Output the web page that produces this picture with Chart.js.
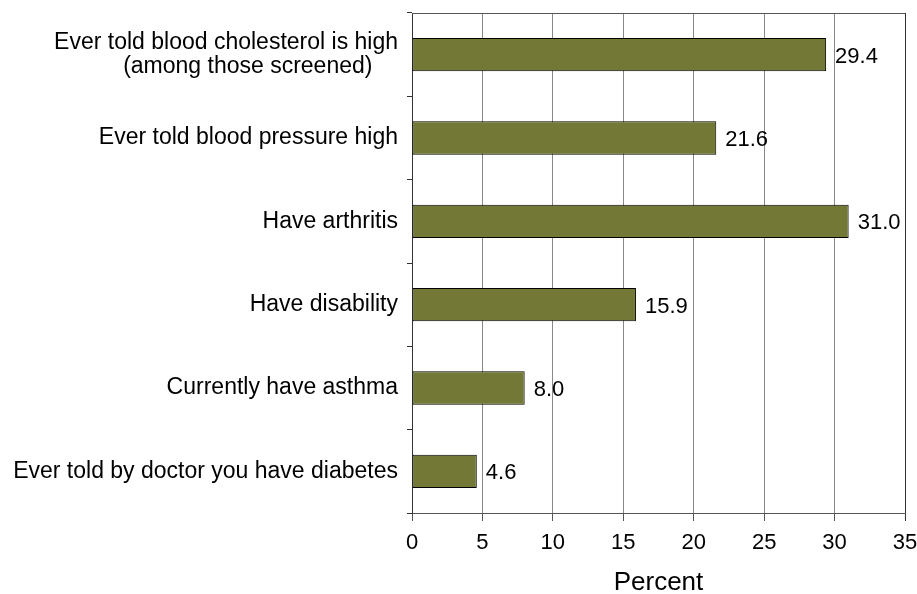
<!DOCTYPE html>
<html><head><meta charset="utf-8">
<script src="https://cdn.jsdelivr.net/npm/chart.js@4"></script>
<style>html,body{margin:0;padding:0;background:#fff}#wrap{width:917px;height:594px}</style>
</head><body><div id="wrap"><canvas id="c" width="917" height="594"></canvas></div>
<script>
const categories = [
  ["Ever told blood cholesterol is high", "(among those screened)    "],
  "Ever told blood pressure high",
  "Have arthritis",
  "Have disability",
  "Currently have asthma",
  "Ever told by doctor you have diabetes"
];
const values = [29.4, 21.6, 31.0, 15.9, 8.0, 4.6];
const xTicks = [0, 5, 10, 15, 20, 25, 30, 35];
const FONT = "'Liberation Sans', Arial, sans-serif";

const valueLabels = {
  id: 'valueLabels',
  afterDatasetsDraw(chart) {
    const ctx = chart.ctx;
    const meta = chart.getDatasetMeta(0);
    ctx.save();
    ctx.font = "22px " + FONT;
    ctx.fillStyle = '#000';
    ctx.textBaseline = 'middle';
    ctx.textAlign = 'left';
    meta.data.forEach((bar, i) => {
      ctx.fillText(values[i].toFixed(1), bar.x + 9, bar.y + 2);
    });
    ctx.restore();
  }
};
const frame = {
  id: 'frame',
  beforeDatasetsDraw(chart) {
    const a = chart.chartArea, ctx = chart.ctx;
    ctx.save();
    ctx.strokeStyle = '#555';
    ctx.lineWidth = 1;
    ctx.beginPath();
    ctx.moveTo(a.left, a.top + 0.5);
    ctx.lineTo(a.right, a.top + 0.5);
    ctx.stroke();
    ctx.restore();
  }
};

new Chart(document.getElementById('c'), {
  type: 'bar',
  data: {
    labels: categories,
    datasets: [{
      data: values,
      backgroundColor: '#737837',
      borderColor: '#000',
      borderWidth: 1,
      borderSkipped: false,
      barPercentage: 0.4,
      categoryPercentage: 1
    }]
  },
  options: {
    indexAxis: 'y',
    responsive: false,
    animation: false,
    devicePixelRatio: 1,
    layout: { padding: { top: 13, right: 12, left: 0, bottom: 0 } },
    plugins: { legend: { display: false }, tooltip: { enabled: false } },
    scales: {
      x: {
        min: 0, max: 35,
        afterBuildTicks(s) { s.ticks = xTicks.map(v => ({ value: v })); },
        grid: {
          color: ctx => ctx.tick && ctx.tick.value === 35 ? '#333' : '#888',
          lineWidth: 1,
          tickLength: 8,
          drawTicks: true,
          tickColor: ctx => ctx.tick && ctx.tick.value === 35 ? '#333' : '#555'
        },
        border: { display: true, color: '#555', width: 1 },
        ticks: { color: '#000', font: { family: FONT, size: 22 }, padding: 9, maxRotation: 0 },
        title: { display: true, text: 'Percent', color: '#000', font: { family: FONT, size: 26, lineHeight: 0.85 }, padding: { top: 4, bottom: 0 } },
        afterFit(s) { s.height = 81; s.paddingLeft = 0; s.paddingRight = 0; }
      },
      y: {
        offset: true,
        grid: { offset: true, drawOnChartArea: false, tickLength: 5, color: '#333' },
        border: { display: true, color: '#333', width: 1 },
        ticks: { color: '#000', font: { family: FONT, size: 23, lineHeight: 1.08 }, padding: 9, crossAlign: 'near' },
        afterFit(s) { s.width = 412; s.paddingTop = 0; s.paddingBottom = 0; }
      }
    }
  },
  plugins: [valueLabels, frame]
});
</script></body></html>
